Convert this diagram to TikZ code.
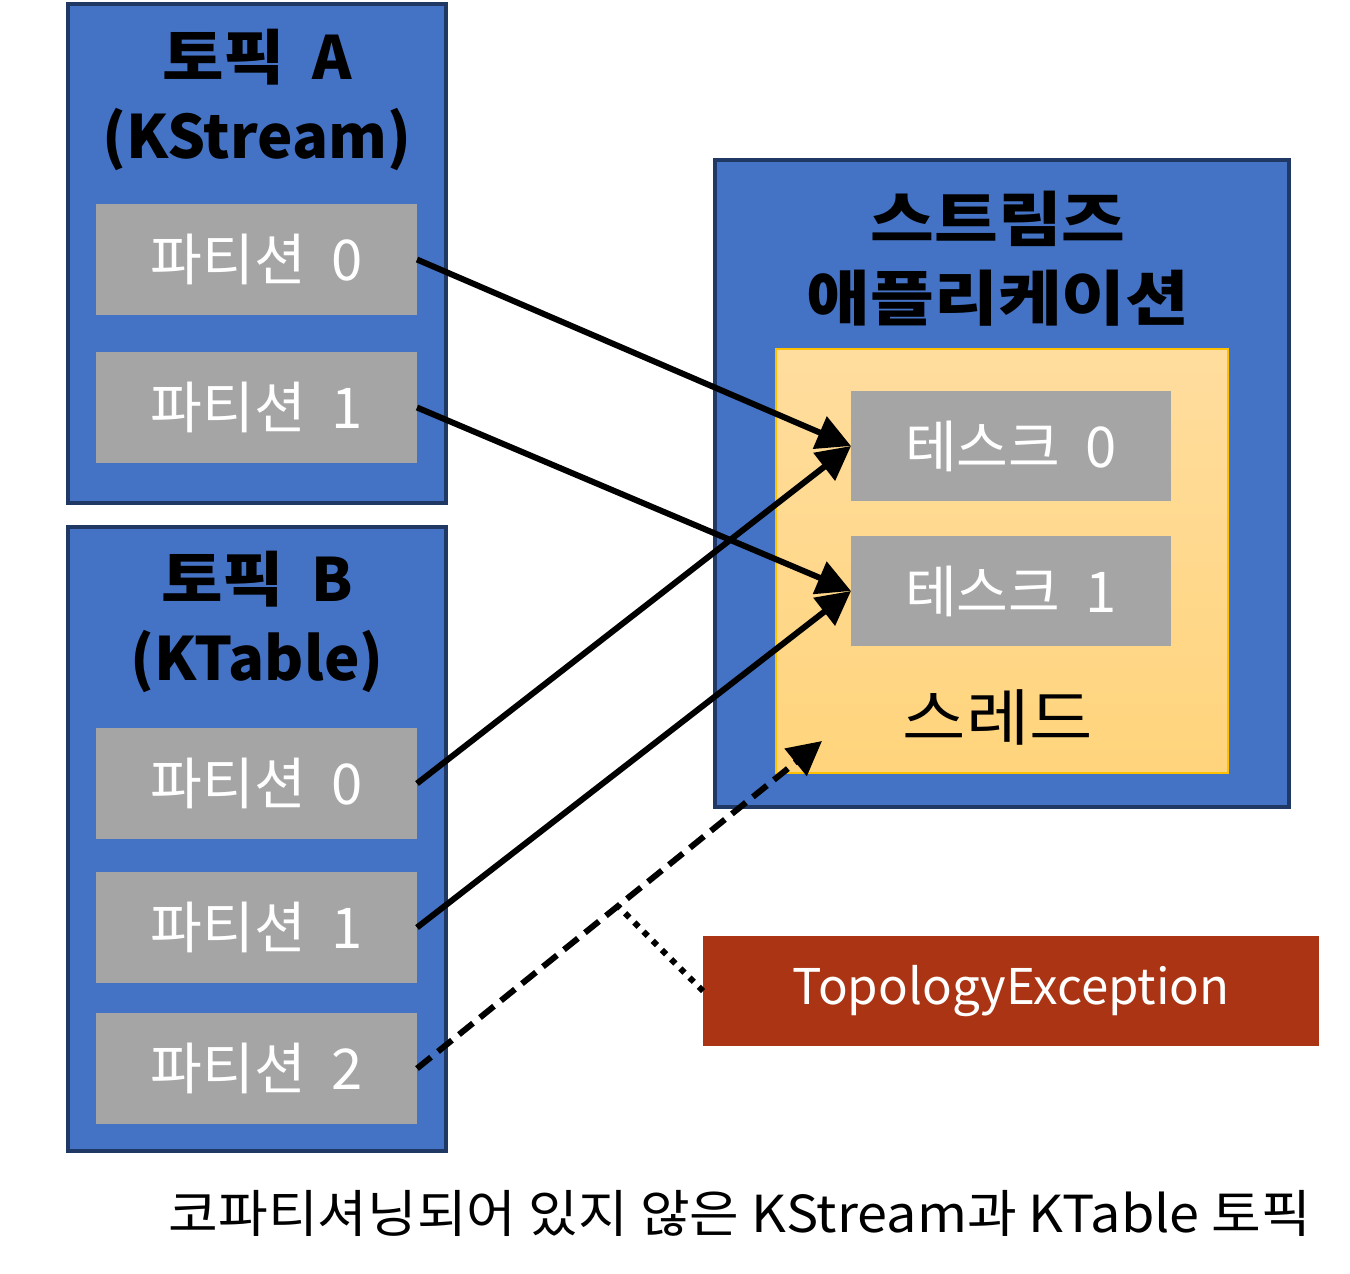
\documentclass[tikz,border=0pt]{standalone}
\usepackage{fontspec}
\setmainfont{Noto Sans CJK KR}
\usetikzlibrary{arrows.meta,calc}
\definecolor{kblue}{HTML}{4472C4}
\definecolor{knavy}{HTML}{1F3864}
\definecolor{kgray}{HTML}{A5A5A5}
\definecolor{korgtop}{HTML}{FFDD9E}
\definecolor{korgbot}{HTML}{FFD47C}
\definecolor{korgline}{HTML}{FFC000}
\definecolor{kred}{HTML}{AB3414}
\def\u{0.02cm}
\newcommand\wideK[1]{\scalebox{1.12}[1]{#1}}
\newcommand\gapK{\hspace{0.45em}}
\begin{document}
\begin{tikzpicture}[x=0.02cm,y=-0.02cm,
  container/.style={draw=knavy,fill=kblue,line width=4*0.5669pt,inner sep=0pt,outer sep=0pt},
  part/.style={fill=kgray,draw=none,inner sep=0pt,outer sep=0pt,minimum width=321*\u,minimum height=111*\u,text=white,font=\fontsize{32}{36}\selectfont},
  title/.style={font=\fontsize{34}{45}\selectfont\bfseries,align=center,inner sep=0pt},
  conn/.style={line width=6*0.5669pt,-{Triangle[length=34*\u,width=34*\u]}},
  dashconn/.style={conn,dash pattern=on 18*\u off 9*\u},
  dotconn/.style={line width=6*0.5669pt,dash pattern=on 6*\u off 7*\u}]
\useasboundingbox (0,0) rectangle (1350,1274);
% containers
\node[container,minimum width=378*\u,minimum height=499*\u] (topA) at (257,253.5) {};
\node[container,minimum width=378*\u,minimum height=624*\u] (topB) at (257,839) {};
\node[container,minimum width=574*\u,minimum height=647*\u] (app) at (1002,483.5) {};
\node[draw=korgline,line width=2*0.5669pt,top color=korgtop,bottom color=korgbot,inner sep=0pt,outer sep=0pt,minimum width=452*\u,minimum height=424*\u] (thread) at (1002,561) {};
% titles
\node[title] (tA) at (257,100) {\wideK{토픽}\gapK A\\(KStream)};
\node[title] (tB) at (257,622) {\wideK{토픽}\gapK B\\(KTable)};
\node[title] (tApp) at (998,259) {\scalebox{1.16}[1]{스트림즈}\\\scalebox{1.16}[1]{애플리케이션}};
\node[font=\fontsize{35}{40}\selectfont,inner sep=0pt] (thr) at (998,717) {\scalebox{1.12}[1]{스레드}};
% partitions
\node[part] (pA0) at (256.5,259.5) {파티션\gapK 0};
\node[part] (pA1) at (256.5,407.5) {파티션\gapK 1};
\node[part] (pB0) at (256.5,783.5) {파티션\gapK 0};
\node[part] (pB1) at (256.5,927.5) {파티션\gapK 1};
\node[part] (pB2) at (256.5,1068.5) {파티션\gapK 2};
% tasks
\node[part,minimum width=320*\u,minimum height=110*\u] (t0) at (1011,446) {테스크\gapK 0};
\node[part,minimum width=320*\u,minimum height=110*\u] (t1) at (1011,591) {테스크\gapK 1};
% exception
\node[fill=kred,inner sep=0pt,outer sep=0pt,minimum width=616*\u,minimum height=110*\u,text=white,font=\fontsize{28}{32}\selectfont] (exc) at (1011,991) {\raisebox{-3pt}{TopologyException}};
% connectors
\coordinate (tip) at (822,741);
\draw[conn] (pA0.east) -- (t0.west);
\draw[conn] (pA1.east) -- (t1.west);
\draw[conn] (pB0.east) -- (t0.west);
\draw[conn] (pB1.east) -- (t1.west);
\draw[dashconn] (pB2.east) -- (tip);
\coordinate (mid) at ($(pB2.east)!0.496!(tip)$);
\draw[dotconn] (exc.west) -- (mid);
% caption
\node[font=\fontsize{29}{34}\selectfont,inner sep=0pt] (cap) at (740,1213) {\scalebox{1.06}[1]{코파티셔닝되어 있지 않은 KStream과 KTable 토픽}};
\end{tikzpicture}
\end{document}
